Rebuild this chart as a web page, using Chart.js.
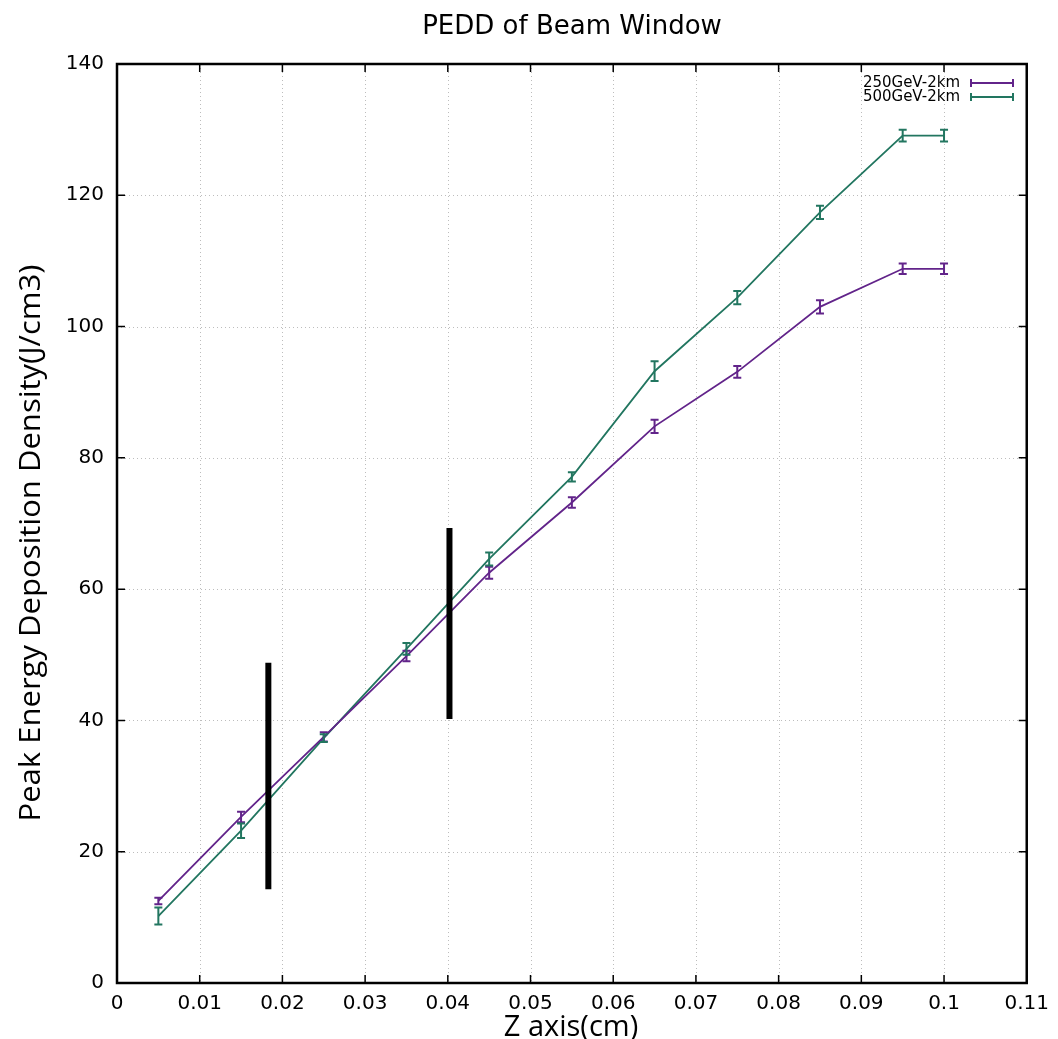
<!DOCTYPE html>
<html>
<head>
<meta charset="utf-8">
<script src="https://cdn.jsdelivr.net/npm/chart.js@4.4.1/dist/chart.umd.min.js"></script>
<style>
  html, body { margin: 0; padding: 0; background: #ffffff; }
  #wrap { width: 1058px; height: 1039px; }
</style>
</head>
<body>
<div id="wrap"><canvas id="chart" width="1058" height="1039"></canvas></div>
<script>
// Depth positions along the window (cm)
const zPositions = [0.005, 0.015, 0.025, 0.035, 0.045, 0.055, 0.065, 0.075, 0.085, 0.095, 0.1];

// Peak energy deposition density (J/cm3) and its uncertainty
const pedd250 = [12.5, 25.3, 37.5, 49.8, 62.5, 73.2, 84.8, 93.1, 103.0, 108.8, 108.8];
const err250  = [0.5, 0.8, 0.7, 0.8, 0.9, 0.8, 1.0, 0.9, 1.0, 0.8, 0.8];
const pedd500 = [10.2, 23.2, 37.3, 50.9, 64.6, 77.1, 93.2, 104.4, 117.4, 129.1, 129.1];
const err500  = [1.3, 1.1, 0.6, 0.9, 1.0, 0.7, 1.5, 1.0, 1.0, 0.9, 0.9];

// Series names
const seriesNames = ['250GeV-2km', '500GeV-2km'];

// Marker bars: [z, lower, upper]
const markerBar1 = [0.0183, 14.3, 48.8];
const markerBar2 = [0.0402, 40.2, 69.3];

// Axis ticks
const xTickValues = [0, 0.01, 0.02, 0.03, 0.04, 0.05, 0.06, 0.07, 0.08, 0.09, 0.1, 0.11];
const xTickLabels = ['0', '0.01', '0.02', '0.03', '0.04', '0.05', '0.06', '0.07', '0.08', '0.09', '0.1', '0.11'];
const yTickValues = [0, 20, 40, 60, 80, 100, 120, 140];
const yTickLabels = ['0', '20', '40', '60', '80', '100', '120', '140'];

const chartTitle = 'PEDD of Beam Window';
const xTitle = 'Z axis(cm)';
const yTitle = 'Peak Energy Deposition Density(J/cm3)';

const PURPLE = '#62248a';
const GREEN = '#227660';

function toPoints(xs, ys) { return xs.map((x, i) => ({ x: x, y: ys[i] })); }

const errorSets = [err250, err500];

// Vertical error bars with caps for the two series
const errorBarPlugin = {
  id: 'errorBars',
  afterDatasetsDraw(chart) {
    const ctx = chart.ctx;
    const xs = chart.scales.x, ys = chart.scales.y;
    chart.data.datasets.forEach((ds) => {
      if (ds.errIndex === undefined) return;
      const errs = errorSets[ds.errIndex];
      ctx.save();
      ctx.strokeStyle = ds.borderColor;
      ctx.lineWidth = 2;
      ds.data.forEach((p, i) => {
        const px = xs.getPixelForValue(p.x);
        const top = ys.getPixelForValue(p.y + errs[i]);
        const bot = ys.getPixelForValue(p.y - errs[i]);
        ctx.beginPath();
        ctx.moveTo(px, top); ctx.lineTo(px, bot);
        ctx.moveTo(px - 4, top); ctx.lineTo(px + 4, top);
        ctx.moveTo(px - 4, bot); ctx.lineTo(px + 4, bot);
        ctx.stroke();
      });
      ctx.restore();
    });
  }
};

// Frame, dotted grid, mirrored inward ticks, titles and key
const framePlugin = {
  id: 'frame',
  beforeDatasetsDraw(chart) {
    const ctx = chart.ctx;
    const a = chart.chartArea;
    const xs = chart.scales.x, ys = chart.scales.y;
    ctx.save();
    ctx.strokeStyle = '#bdbdbd';
    ctx.lineWidth = 1;
    ctx.setLineDash([1, 3]);
    xTickValues.forEach(v => {
      const px = Math.round(xs.getPixelForValue(v)) + 0.5;
      ctx.beginPath(); ctx.moveTo(px, a.top); ctx.lineTo(px, a.bottom); ctx.stroke();
    });
    yTickValues.forEach(v => {
      const py = Math.round(ys.getPixelForValue(v)) + 0.5;
      ctx.beginPath(); ctx.moveTo(a.left, py); ctx.lineTo(a.right, py); ctx.stroke();
    });
    ctx.restore();
  },
  afterDraw(chart) {
    const ctx = chart.ctx;
    const a = chart.chartArea;
    const xs = chart.scales.x, ys = chart.scales.y;
    ctx.save();
    ctx.strokeStyle = '#000';
    ctx.lineWidth = 2.5;
    ctx.strokeRect(a.left, a.top, a.right - a.left, a.bottom - a.top);
    ctx.lineWidth = 1.5;
    ctx.beginPath();
    xTickValues.forEach(v => {
      const px = xs.getPixelForValue(v);
      ctx.moveTo(px, a.bottom); ctx.lineTo(px, a.bottom - 8);
      ctx.moveTo(px, a.top); ctx.lineTo(px, a.top + 8);
    });
    yTickValues.forEach(v => {
      const py = ys.getPixelForValue(v);
      ctx.moveTo(a.left, py); ctx.lineTo(a.left + 8, py);
      ctx.moveTo(a.right, py); ctx.lineTo(a.right - 8, py);
    });
    ctx.stroke();

    // Titles
    ctx.fillStyle = '#000';
    ctx.textAlign = 'center';
    ctx.textBaseline = 'middle';
    ctx.font = '26px "DejaVu Sans"';
    ctx.fillText(chartTitle, 572, 27);
    ctx.font = '29px "Open Sans"';
    ctx.textBaseline = 'alphabetic';
    ctx.fillText(xTitle, 571, 1036);
    ctx.save();
    ctx.translate(40, 543);
    ctx.rotate(-Math.PI / 2);
    ctx.scale(1.07, 1);
    ctx.fillText(yTitle, 0, 0);
    ctx.restore();

    // Key
    ctx.font = '15px "DejaVu Sans"';
    ctx.textAlign = 'right';
    ctx.textBaseline = 'middle';
    const keyRows = [[seriesNames[0], PURPLE, 83], [seriesNames[1], GREEN, 97]];
    keyRows.forEach(r => {
      ctx.fillStyle = '#000';
      ctx.fillText(r[0], 960, r[2]);
      ctx.strokeStyle = r[1];
      ctx.lineWidth = 2;
      ctx.beginPath();
      ctx.moveTo(971, r[2]); ctx.lineTo(1013, r[2]);
      ctx.moveTo(971, r[2] - 4); ctx.lineTo(971, r[2] + 4);
      ctx.moveTo(1013, r[2] - 4); ctx.lineTo(1013, r[2] + 4);
      ctx.stroke();
    });
    ctx.restore();
  }
};

new Chart(document.getElementById('chart'), {
  type: 'line',
  data: {
    datasets: [
      {
        data: [{ x: markerBar1[0], y: markerBar1[1] }, { x: markerBar1[0], y: markerBar1[2] }],
        borderColor: '#000', borderWidth: 6, pointRadius: 0, borderCapStyle: 'butt', order: 0
      },
      {
        data: [{ x: markerBar2[0], y: markerBar2[1] }, { x: markerBar2[0], y: markerBar2[2] }],
        borderColor: '#000', borderWidth: 6, pointRadius: 0, borderCapStyle: 'butt', order: 0
      },
      {
        label: seriesNames[0], data: toPoints(zPositions, pedd250), errIndex: 0,
        borderColor: PURPLE, borderWidth: 1.8, pointRadius: 0, tension: 0, order: 1
      },
      {
        label: seriesNames[1], data: toPoints(zPositions, pedd500), errIndex: 1,
        borderColor: GREEN, borderWidth: 1.8, pointRadius: 0, tension: 0, order: 2
      }
    ]
  },
  options: {
    responsive: false,
    animation: false,
    layout: { padding: { top: 64, right: 28, left: 0, bottom: 0 } },
    plugins: { legend: { display: false }, tooltip: { enabled: false }, title: { display: false } },
    scales: {
      x: {
        type: 'linear', min: 0, max: 0.11,
        afterBuildTicks(s) { s.ticks = xTickValues.map(v => ({ value: v })); },
        afterFit(s) { s.height = 56; },
        grid: { display: false, drawTicks: false },
        border: { display: false },
        ticks: {
          padding: 9, color: '#000', maxRotation: 0, autoSkip: false,
          font: { family: 'DejaVu Sans', size: 20 },
          callback: (v, i) => xTickLabels[i]
        }
      },
      y: {
        type: 'linear', min: 0, max: 140,
        afterBuildTicks(s) { s.ticks = yTickValues.map(v => ({ value: v })); },
        afterFit(s) { s.width = 117; },
        grid: { display: false, drawTicks: false },
        border: { display: false },
        ticks: {
          padding: 13, color: '#000', autoSkip: false,
          font: { family: 'DejaVu Sans', size: 20 },
          callback: (v, i) => yTickLabels[i]
        }
      }
    }
  },
  plugins: [framePlugin, errorBarPlugin]
});
</script>
</body>
</html>
